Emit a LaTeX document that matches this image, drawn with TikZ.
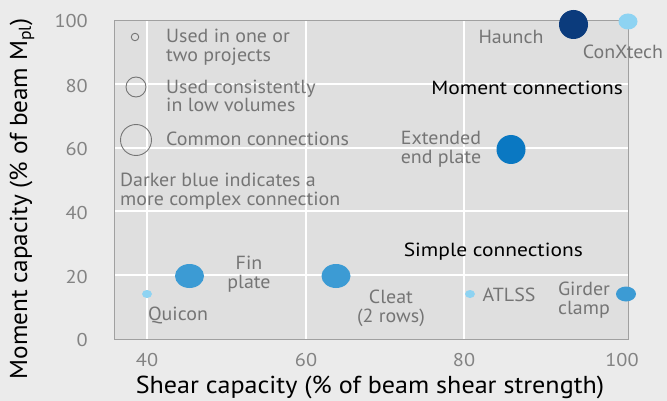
\documentclass[tikz,border=0pt]{standalone}
\usepackage{fontspec}
\setmainfont{PT Sans}
\newfontfamily\lblfont[FakeStretch=1.05]{PT Sans}
\newfontfamily\headfont[FakeStretch=1.13]{PT Sans}
\newfontfamily\tickfont[FakeStretch=1.1]{PT Sans}
\newfontfamily\xtfont[FakeStretch=1.065]{PT Sans}
\newfontfamily\ytfont[FakeStretch=1.03]{PT Sans}
\usetikzlibrary{shapes.geometric}
\definecolor{pagebg}{HTML}{EBEBEB}
\definecolor{plotbg}{HTML}{DFDFDF}
\definecolor{framegray}{HTML}{A0A0A0}
\definecolor{txtgray}{HTML}{757575}
\definecolor{tickgray}{HTML}{838383}
\definecolor{navy}{HTML}{0B3B7C}
\definecolor{midblue}{HTML}{0A78C2}
\definecolor{stdblue}{HTML}{3C9BD4}
\definecolor{paleblue}{HTML}{8ED3F2}
\tikzset{
  lbl/.style={text=txtgray, inner sep=0pt, font=\lblfont\fontsize{19}{18.7}\selectfont, align=center},
  lbll/.style={lbl, align=left},
  tick/.style={text=tickgray, inner sep=0pt, font=\tickfont\fontsize{18.5}{18.5}\selectfont},
  group/.style={text=black, inner sep=0pt, font=\headfont\fontsize{19}{19}\selectfont},
  xtitle/.style={text=black, inner sep=0pt, font=\xtfont\fontsize{24.5}{24.5}\selectfont},
  ytitle/.style={text=black, inner sep=0pt, font=\ytfont\fontsize{24.5}{24.5}\selectfont},
  dot/.style={ellipse, inner sep=0pt, draw=none},
  key/.style={circle, inner sep=0pt, draw=txtgray, line width=0.9pt},
  grid/.style={white, line width=1.2pt},
}
\begin{document}
\begin{tikzpicture}[x=1pt,y=-1pt]
\fill[pagebg] (0,0) rectangle (667,401);
\useasboundingbox (0,0) rectangle (667,401);
% plot area
\fill[plotbg] (114,21) rectangle (628,339);
\foreach \gx in {147,306,464} \draw[grid] (\gx,21) -- (\gx,339);
\foreach \gy in {84,148,211,275} \draw[grid] (114,\gy) -- (628,\gy);
\draw[framegray, line width=1pt] (114,21) rectangle (628,339);
% tick labels
\node[tick, anchor=east] (y100) at (88,21.5) {100};
\node[tick, anchor=east] (y80) at (88,86.5) {80};
\node[tick, anchor=east] (y60) at (88,149.5) {60};
\node[tick, anchor=east] (y40) at (88,213.5) {40};
\node[tick, anchor=east] (y20) at (88,277.5) {20};
\node[tick, anchor=east] (y0) at (88,340.5) {0};
\node[tick] (x40) at (147,360) {40};
\node[tick] (x60) at (306,360) {60};
\node[tick] (x80) at (464,360) {80};
\node[tick] (x100) at (622,360) {100};
% axis titles
\node[xtitle] (xt) at (370,387) {Shear capacity (\% of beam shear strength)};
\node[ytitle, rotate=90] (yt) at (22,199) {Moment capacity (\% of beam M\textsubscript{pl})};
% legend
\node[key, minimum size=7.5pt] (k1) at (135,37) {};
\node[key, minimum size=20pt] (k2) at (136,87) {};
\node[key, minimum size=31pt] (k3) at (136,140) {};
\node[lbll, anchor=west] (t1) at (166,47) {Used in one or\\two projects};
\node[lbll, anchor=west] (t2) at (166,96) {Used consistently\\in low volumes};
\node[lbll, anchor=west] (t3) at (166,138.5) {Common connections};
\node[lbll, anchor=west] (t4) at (120,191) {Darker blue indicates a\\more complex connection};
% group headings
\node[group, anchor=east] (mom) at (623,88) {Moment connections};
\node[group, anchor=east] (sim) at (583,252) {Simple connections};
% connection points
\node[dot, fill=navy, minimum width=29pt, minimum height=29pt] (haunch) at (573.5,24.5) {};
\node[dot, fill=paleblue, minimum width=19pt, minimum height=16pt] (conx) at (628,21.5) {};
\node[dot, fill=midblue, minimum width=29pt, minimum height=29pt] (eep) at (511,149.5) {};
\node[dot, fill=stdblue, minimum width=29pt, minimum height=24pt] (fin) at (189.5,276) {};
\node[dot, fill=stdblue, minimum width=29pt, minimum height=24pt] (cleat) at (336,276) {};
\node[dot, fill=stdblue, minimum width=20pt, minimum height=15pt] (girder) at (626,294) {};
\node[dot, fill=paleblue, minimum width=10pt, minimum height=8pt] (quicon) at (147,294) {};
\node[dot, fill=paleblue, minimum width=10pt, minimum height=8pt] (atlss) at (470,294) {};
% point labels
\node[lbl] (lhaunch) at (511,37) {Haunch};
\node[lbl] (lconx) at (623,52) {ConXtech};
\node[lbl] (leep) at (441,149) {Extended\\end plate};
\node[lbl] (lfin) at (249,274) {Fin\\plate};
\node[lbl] (lquicon) at (178,315) {Quicon};
\node[lbl] (lcleat) at (391,308) {Cleat\\(2 rows)};
\node[lbl] (latlss) at (509,295) {ATLSS};
\node[lbl] (lgirder) at (584,300) {Girder\\clamp};
\end{tikzpicture}
\end{document}
